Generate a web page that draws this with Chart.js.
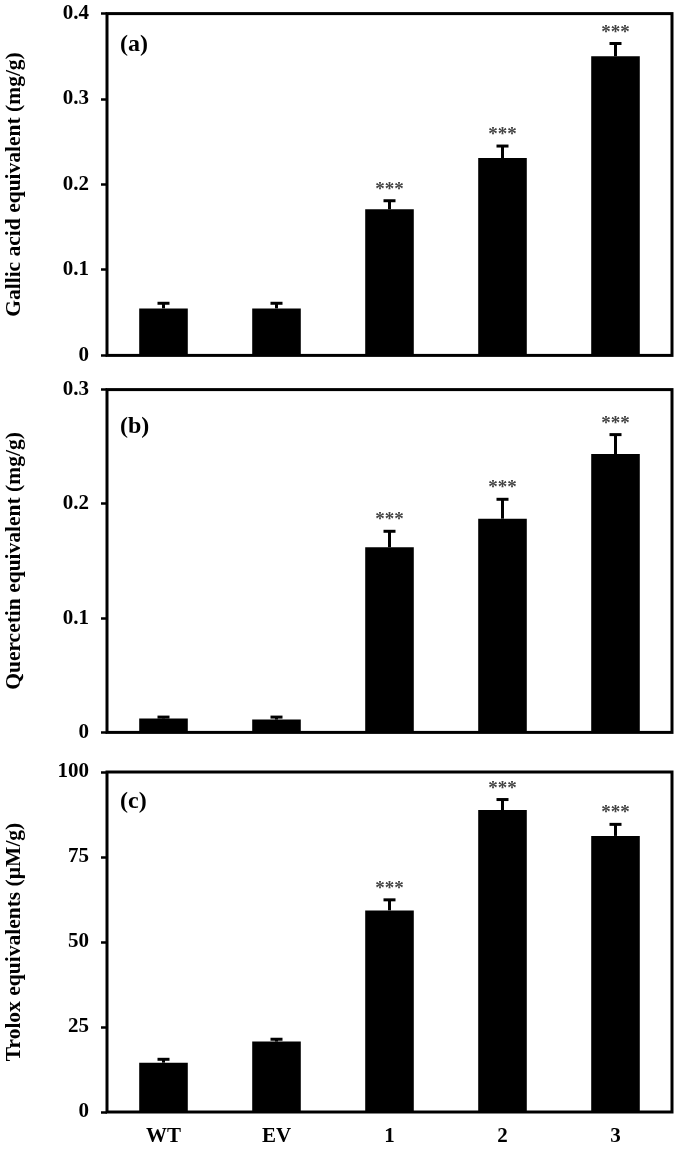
<!DOCTYPE html>
<html>
<head>
<meta charset="utf-8">
<script src="https://cdn.jsdelivr.net/npm/chart.js@4/dist/chart.umd.min.js"></script>
<style>
  html, body { margin:0; padding:0; background:#fff; }
  body { width:686px; height:1149px; position:relative; overflow:hidden; }
  .panel { position:absolute; left:0; width:686px; }
  canvas { display:block; }
</style>
</head>
<body>
<div class="panel" id="pa" style="top:-11px;height:391px"><canvas id="ca"></canvas></div>
<div class="panel" id="pb" style="top:365px;height:392px"><canvas id="cb"></canvas></div>
<div class="panel" id="pc" style="top:744px;height:405px"><canvas id="cc"></canvas></div>
<script>
// ---- data ----
const categories = ['WT', 'EV', '1', '2', '3'];

const gallicValues = [0.055, 0.055, 0.171, 0.231, 0.350];
const gallicErrors = [0.006, 0.006, 0.010, 0.014, 0.015];
const gallicStars  = ['', '', '***', '***', '***'];
const gallicTicks  = [0, 0.1, 0.2, 0.3, 0.4];

const quercetinValues = [0.0122, 0.0112, 0.162, 0.187, 0.2436];
const quercetinErrors = [0.0012, 0.0022, 0.014, 0.017, 0.017];
const quercetinStars  = ['', '', '***', '***', '***'];
const quercetinTicks  = [0, 0.1, 0.2, 0.3];

const troloxValues = [14.5, 20.7, 59.3, 88.8, 81.2];
const troloxErrors = [1.0, 0.7, 3.1, 3.1, 3.4];
const troloxStars  = ['', '', '***', '***', '***'];
const troloxTicks  = [0, 25, 50, 75, 100];

const SERIF = '"Liberation Serif", "Times New Roman", serif';

const overlay = {
  id: 'overlay',
  afterDatasetsDraw(chart, args, opts) {
    const ctx = chart.ctx;
    const meta = chart.getDatasetMeta(0);
    const y = chart.scales.y;
    const { left, right, top, bottom } = chart.chartArea;
    ctx.save();
    meta.data.forEach((bar, i) => {
      const v = opts.values[i], e = opts.errors[i];
      const yt = y.getPixelForValue(v + e);
      const yb = y.getPixelForValue(v);
      ctx.strokeStyle = '#000';
      ctx.lineWidth = 3;
      ctx.beginPath(); ctx.moveTo(bar.x, yb); ctx.lineTo(bar.x, yt); ctx.stroke();
      ctx.beginPath(); ctx.moveTo(bar.x - 6, yt); ctx.lineTo(bar.x + 6, yt); ctx.stroke();
      if (opts.stars[i]) {
        ctx.fillStyle = '#444';
        ctx.font = 'bold 19px ' + SERIF;
        ctx.textAlign = 'center';
        ctx.textBaseline = 'alphabetic';
        ctx.fillText(opts.stars[i], bar.x, yt - 6);
      }
    });
    ctx.strokeStyle = '#000';
    ctx.lineWidth = 3;
    ctx.strokeRect(left, top, right - left, bottom - top);
    ctx.fillStyle = '#000';
    ctx.font = 'bold 24px ' + SERIF;
    ctx.textAlign = 'left';
    ctx.textBaseline = 'middle';
    ctx.fillText(opts.label, left + 13, top + opts.labelDy);
    ctx.restore();
  }
};

function makeChart(id, values, errors, stars, ticks, title, label, padTop, xHeight, showX, labelDy) {
  const tickSet = ticks.slice();
  new Chart(document.getElementById(id), {
    type: 'bar',
    data: {
      labels: categories,
      datasets: [{
        data: values,
        backgroundColor: '#000',
        borderWidth: 0,
        barPercentage: 0.43,
        categoryPercentage: 1.0
      }]
    },
    options: {
      responsive: true,
      maintainAspectRatio: false,
      animation: false,
      events: [],
      layout: { padding: { top: padTop, right: 14, bottom: 0, left: 0 } },
      plugins: {
        legend: { display: false },
        tooltip: { enabled: false },
        overlay: { values, errors, stars, label, labelDy }
      },
      scales: {
        x: {
          grid: { display: false },
          border: { display: false },
          ticks: {
            display: showX,
            color: '#000',
            font: { family: SERIF, size: 21, weight: 'bold' },
            padding: 4
          },
          afterFit(s) { s.height = xHeight; }
        },
        y: {
          min: tickSet[0],
          max: tickSet[tickSet.length - 1],
          afterBuildTicks(s) { s.ticks = tickSet.map(v => ({ value: v })); },
          grid: {
            drawOnChartArea: false,
            drawTicks: true,
            tickLength: 6,
            tickWidth: 2.5,
            tickColor: '#000'
          },
          border: { display: false },
          ticks: {
            color: '#000',
            padding: 12,
            font: { family: SERIF, size: 21, weight: 'bold' },
            callback: v => String(v)
          },
          title: {
            display: true,
            text: title,
            color: '#000',
            font: { family: SERIF, size: 21.5, weight: 'bold' },
            padding: { top: 2, bottom: 0 }
          },
          afterFit(s) { s.width = 107; }
        }
      }
    },
    plugins: [overlay]
  });
}

makeChart('ca', gallicValues, gallicErrors, gallicStars, gallicTicks,
  'Gallic acid equivalent (mg/g)', '(a)', 22, 24, false, 31);
makeChart('cb', quercetinValues, quercetinErrors, quercetinStars, quercetinTicks,
  'Quercetin equivalent (mg/g)', '(b)', 22, 24, false, 37);
makeChart('cc', troloxValues, troloxErrors, troloxStars, troloxTicks,
  'Trolox equivalents (\u00b5M/g)', '(c)', 28, 37, true, 30);
</script>
</body>
</html>
